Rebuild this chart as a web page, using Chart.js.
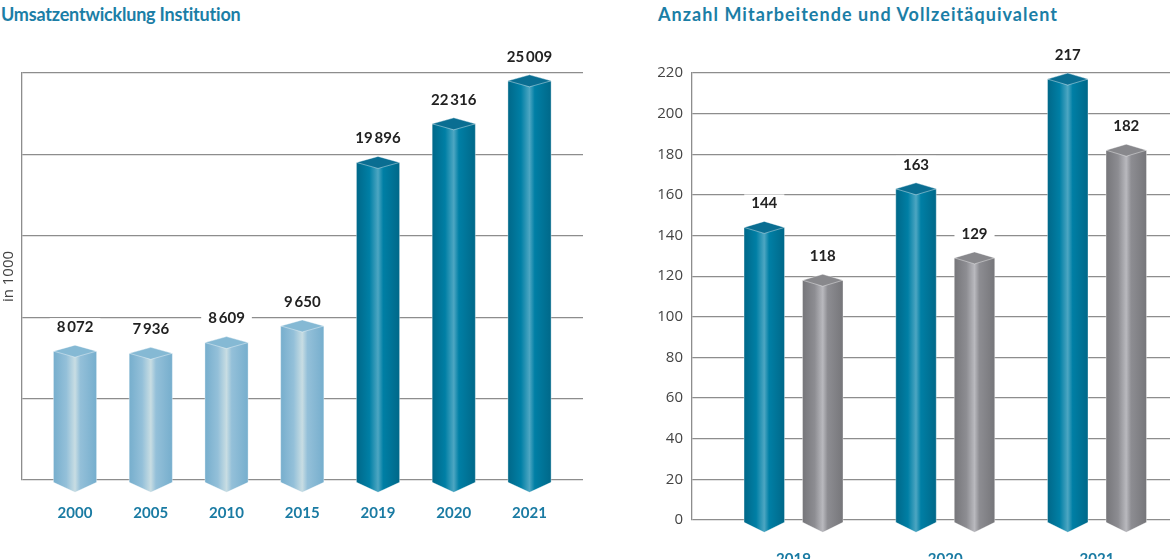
<!DOCTYPE html>
<html lang="de">
<head>
  <meta charset="UTF-8">
  <title>Umsatzentwicklung und Mitarbeitende</title>
  <script src="https://cdn.jsdelivr.net/npm/chart.js"></script>
  <style>
    body {
      margin: 0;
      width: 1170px;
      height: 559px;
      overflow: hidden;
      background: #fff;
      position: relative;
      font-family: Lato, sans-serif;
    }

    .title {
      position: absolute;
      top: 4px;
      font-size: 18px;
      line-height: 20px;
      font-weight: bold;
      color: #1b7ea6;
      white-space: nowrap;
    }

    canvas {
      position: absolute;
      top: 0;
    }
  </style>
</head>
<body>
  <div class="title" style="left:1px; letter-spacing:-0.2px">Umsatzentwicklung Institution</div>
  <div class="title" style="left:658px; letter-spacing:1.05px">Anzahl Mitarbeitende und Vollzeitäquivalent</div>

  <canvas id="umsatzChart" width="600" height="559" style="left:0"></canvas>
  <canvas id="staffChart" width="530" height="559" style="left:640px"></canvas>

  <script>
    // Umsatz (in 1000)
    const umsatzYears = ['2000', '2005', '2010', '2015', '2019', '2020', '2021'];
    const umsatzValues = [8072, 7936, 8609, 9650, 19896, 22316, 25009];

    // Mitarbeitende / Vollzeitaequivalent
    const staffYears = ['2019', '2020', '2021'];
    const staffHeadcount = [144, 163, 217];
    const staffFte = [118, 129, 182];

    const gridColor = '#8d8d8d';
    const yearColor = '#1a7ba3';

    // colour sets for the 3d columns
    const palettes = {
      light: { edge: '#76aecd', mid: '#94c0d9', hi: '#c8dde3', cap: '#85b9d4' },
      dark:  { edge: '#006889', mid: '#007fa5', hi: '#4da6c2', cap: '#0a6e92' },
      gray:  { edge: '#76767a', mid: '#8d8d92', hi: '#b9b9be', cap: '#88888c' }
    };

    function formatValue(v) {
      return String(v).replace(/\B(?=(\d{3})+(?!\d))/g, '\u2009');
    }

    // draws each bar element as a column with diamond cap and pointed foot
    const columnPlugin = {
      id: 'columns3d',
      afterDatasetsDraw(chart) {
        const ctx = chart.ctx;
        chart.data.datasets.forEach((ds, di) => {
          const meta = chart.getDatasetMeta(di);
          meta.data.forEach((bar, i) => {
            const pal = palettes[ds.palette[i]];
            const l = bar.x - bar.width / 2;
            const r = bar.x + bar.width / 2;
            const top = bar.y;
            const base = bar.base;
            const d = 6;

            const grad = ctx.createLinearGradient(l, 0, r, 0);
            grad.addColorStop(0, pal.edge);
            grad.addColorStop(0.3, pal.mid);
            grad.addColorStop(0.5, pal.hi);
            grad.addColorStop(0.62, pal.mid);
            grad.addColorStop(1, pal.edge);

            ctx.save();
            ctx.beginPath();
            ctx.moveTo(l, top);
            ctx.lineTo(r, top);
            ctx.lineTo(r, base + 3);
            ctx.lineTo(bar.x, base + 13);
            ctx.lineTo(l, base + 3);
            ctx.closePath();
            ctx.fillStyle = grad;
            ctx.fill();
            ctx.strokeStyle = 'rgba(255,255,255,0.45)';
            ctx.lineWidth = 0.8;
            ctx.stroke();

            ctx.beginPath();
            ctx.moveTo(l, top);
            ctx.lineTo(bar.x, top - d);
            ctx.lineTo(r, top);
            ctx.lineTo(bar.x, top + d);
            ctx.closePath();
            ctx.fillStyle = pal.cap;
            ctx.fill();
            ctx.strokeStyle = 'rgba(255,255,255,0.5)';
            ctx.stroke();
            ctx.restore();
          });
        });
      }
    };

    // value above each column, on a white patch that breaks the grid line
    const valueLabelPlugin = {
      id: 'valueLabels',
      afterDatasetsDraw(chart) {
        const ctx = chart.ctx;
        ctx.save();
        ctx.font = 'bold 15px Lato, sans-serif';
        ctx.textAlign = 'center';
        ctx.textBaseline = 'middle';
        chart.data.datasets.forEach((ds, di) => {
          const meta = chart.getDatasetMeta(di);
          meta.data.forEach((bar, i) => {
            const text = formatValue(ds.data[i].y);
            const w = ctx.measureText(text).width;
            const cy = bar.y - 24;
            ctx.fillStyle = '#fff';
            ctx.fillRect(bar.x - w / 2 - 7, cy - 9, w + 14, 18);
            ctx.fillStyle = '#222';
            ctx.fillText(text, bar.x, cy);
          });
        });
        ctx.restore();
      }
    };

    function yearAxis(labels, min, max, pad, height) {
      return {
        type: 'linear',
        offset: false,
        min: min,
        max: max,
        afterBuildTicks: s => { s.ticks = labels.map((_, i) => ({ value: i })); },
        afterFit: s => { s.height = height; },
        grid: { display: false, drawTicks: false, offset: false },
        border: { display: false },
        ticks: {
          callback: v => labels[v],
          color: yearColor,
          font: { family: 'Lato', size: 15, weight: 'bold' },
          padding: pad,
          maxRotation: 0,
          autoSkip: false
        }
      };
    }

    new Chart(document.getElementById('umsatzChart'), {
      type: 'bar',
      data: {
        datasets: [{
          data: umsatzValues.map((v, i) => ({ x: i, y: v })),
          palette: umsatzYears.map(y => (Number(y) < 2019 ? 'light' : 'dark')),
          backgroundColor: 'rgba(0,0,0,0)',
          categoryPercentage: 1,
          barPercentage: 0.57
        }]
      },
      options: {
        responsive: false,
        animation: false,
        layout: { padding: { top: 73, right: 17, left: 0, bottom: 0 } },
        plugins: { legend: { display: false }, tooltip: { enabled: false } },
        scales: {
          x: yearAxis(umsatzYears, -0.7, 6.706, 24, 79),
          y: {
            min: 0,
            max: 25500,
            afterFit: s => { s.width = 22; },
            ticks: { display: false, stepSize: 5100 },
            grid: { color: gridColor, lineWidth: 1.3, drawTicks: false },
            border: { display: true, color: gridColor, width: 1.3 },
            title: {
              display: true,
              text: 'in 1000',
              color: '#444',
              font: { family: 'Open Sans', size: 15 },
              padding: 0
            }
          }
        }
      },
      plugins: [columnPlugin, valueLabelPlugin]
    });

    new Chart(document.getElementById('staffChart'), {
      type: 'bar',
      data: {
        datasets: [{
          label: 'Mitarbeitende',
          data: staffHeadcount.map((v, i) => ({ x: i, y: v })),
          palette: staffYears.map(() => 'dark'),
          backgroundColor: 'rgba(0,0,0,0)',
          categoryPercentage: 0.771,
          barPercentage: 0.692
        }, {
          label: 'Vollzeitäquivalent',
          data: staffFte.map((v, i) => ({ x: i, y: v })),
          palette: staffYears.map(() => 'gray'),
          backgroundColor: 'rgba(0,0,0,0)',
          categoryPercentage: 0.771,
          barPercentage: 0.692
        }]
      },
      options: {
        responsive: false,
        animation: false,
        layout: { padding: { top: 73, right: 0, left: 0, bottom: 0 } },
        plugins: { legend: { display: false }, tooltip: { enabled: false } },
        scales: {
          x: yearAxis(staffYears, -0.669, 2.481, 30, 39),
          y: {
            min: 0,
            max: 220,
            afterFit: s => { s.width = 52; },
            ticks: {
              stepSize: 20,
              padding: 9,
              color: '#444',
              font: { family: 'Open Sans', size: 15 }
            },
            grid: { color: gridColor, lineWidth: 1.3, drawTicks: false },
            border: { display: true, color: gridColor, width: 1.3 }
          }
        }
      },
      plugins: [columnPlugin, valueLabelPlugin]
    });
  </script>
</body>
</html>
